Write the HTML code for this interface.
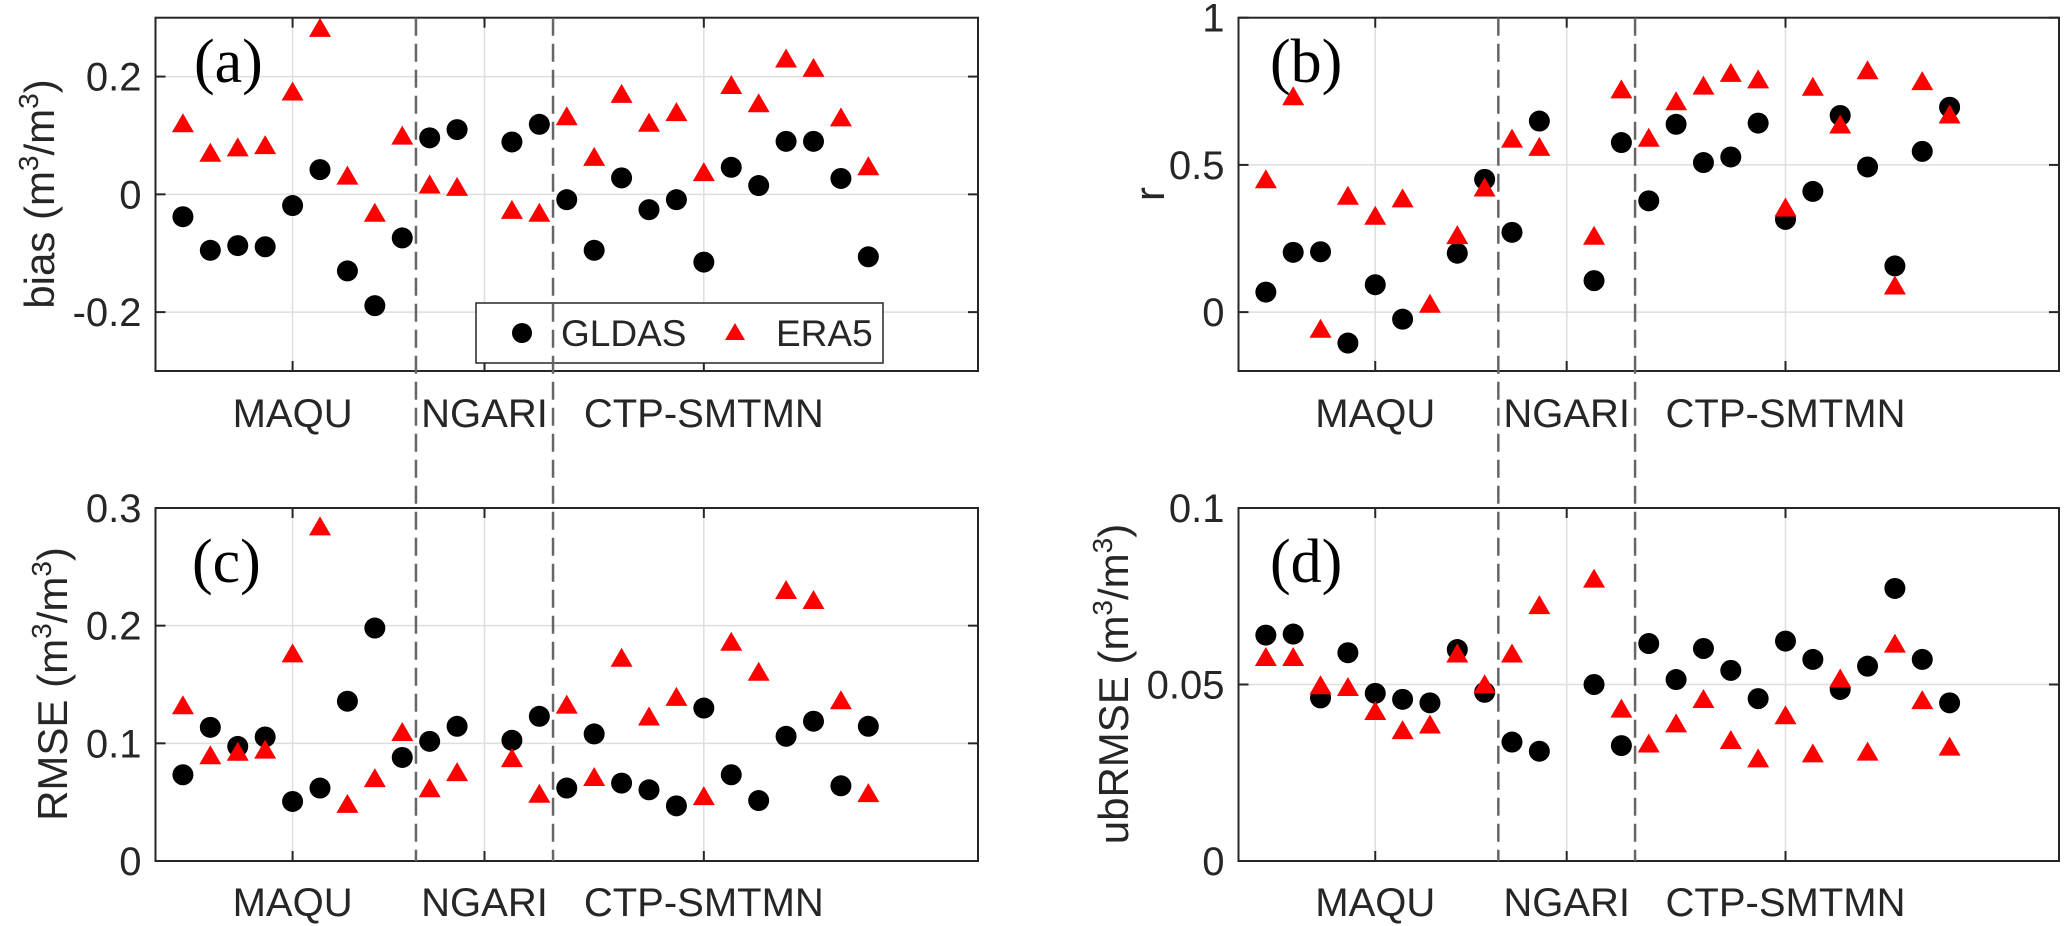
<!DOCTYPE html>
<html><head><meta charset="utf-8"><style>
html,body{margin:0;padding:0;background:#fff;}
svg{display:block;}
text{font-family:"Liberation Sans",Arial,sans-serif;fill:#262626;}
text.serif{font-family:"Liberation Serif","Times New Roman",serif;fill:#000;}
</style></head>
<body>
<svg id="chart" width="2067" height="926" viewBox="0 0 2067 926" xmlns="http://www.w3.org/2000/svg"></svg>
<script>
// ---- data (index = station 1..26; null = missing) ----
const categories = ["MAQU", "NGARI", "CTP-SMTMN"];
const categoryTicks = [5, 12, 20];
const groupDividers = [9.5, 14.5];

const biasGLDAS = [-0.038,-0.095,-0.087,-0.089,-0.019,0.042,-0.130,-0.189,-0.074,0.096,0.110,null,0.089,0.119,-0.009,-0.095,0.028,-0.026,-0.009,-0.115,0.046,0.015,0.090,0.090,0.027,-0.106];
const biasERA5  = [0.119,0.069,0.078,0.082,0.173,0.281,0.030,-0.033,0.098,0.015,0.011,null,-0.028,-0.033,0.131,0.062,0.169,0.120,0.138,0.036,0.184,0.153,0.229,0.213,0.129,0.046];

const rGLDAS = [0.068,0.203,0.205,-0.105,0.093,-0.024,null,0.200,0.451,0.271,0.649,null,0.107,0.576,0.378,0.638,0.508,0.527,0.642,0.315,0.410,0.668,0.493,0.157,0.546,0.696];
const rERA5  = [0.448,0.730,-0.060,0.392,0.324,0.383,0.025,0.258,0.420,0.586,0.558,null,0.256,0.753,0.589,0.713,0.766,0.809,0.787,0.352,0.762,0.634,0.818,0.087,0.781,0.668];

const rmseGLDAS = [0.0733,0.1136,0.0974,0.1054,0.0506,0.062,0.1358,0.198,0.088,0.1017,0.1145,null,0.1026,0.123,0.062,0.108,0.0662,0.0605,0.0469,0.130,0.0733,0.0514,0.106,0.1188,0.0639,0.1145];
const rmseERA5  = [0.1315,0.089,0.092,0.0938,0.1756,0.2835,0.0477,0.0696,0.1088,0.061,0.0747,null,0.0866,0.0563,0.132,0.0705,0.1719,0.122,0.1386,0.0543,0.1855,0.160,0.2295,0.221,0.1358,0.0568];

const ubGLDAS = [0.064,0.0643,0.0462,0.059,0.0475,0.0458,0.0448,0.0599,0.0478,0.0337,0.0311,null,0.050,0.0327,0.0616,0.0514,0.0602,0.054,0.046,0.0623,0.0571,0.0486,0.0552,0.0772,0.0571,0.0448];
const ubERA5  = [0.0575,0.0575,0.0495,0.049,0.0422,0.0368,0.0384,0.0585,0.0498,0.0585,0.0722,null,0.0797,0.0429,0.033,0.0387,0.0456,0.034,0.0288,0.041,0.0302,0.0514,0.0307,0.0613,0.0453,0.0321];

const biasTicks = [-0.2, 0, 0.2];
const biasTickLabels = ["-0.2", "0", "0.2"];
const rTicks = [0, 0.5, 1];
const rTickLabels = ["0", "0.5", "1"];
const rmseTicks = [0, 0.1, 0.2, 0.3];
const rmseTickLabels = ["0", "0.1", "0.2", "0.3"];
const ubTicks = [0, 0.05, 0.1];
const ubTickLabels = ["0", "0.05", "0.1"];

const NS = "http://www.w3.org/2000/svg";
const svg = document.getElementById("chart");
function mk(tag, attrs, parent) {
  const e = document.createElementNS(NS, tag);
  for (const k in attrs) e.setAttribute(k, attrs[k]);
  (parent || svg).appendChild(e);
  return e;
}

const panels = [
  {id:"a", L:155.5, R:978, T:17.7, B:371, ymin:-0.3, ymax:0.3, ticks:biasTicks, tl:biasTickLabels, g:biasGLDAS, e:biasERA5, ylab:"bias", lx:40, ly:194, px:194, py:82, catY:427},
  {id:"b", L:1238.5, R:2059, T:17.7, B:371, ymin:-0.2, ymax:1, ticks:rTicks, tl:rTickLabels, g:rGLDAS, e:rERA5, ylab:"r", lx:1150, ly:194, px:1270, py:82, catY:427},
  {id:"c", L:155.5, R:978, T:508, B:861, ymin:0, ymax:0.3, ticks:rmseTicks, tl:rmseTickLabels, g:rmseGLDAS, e:rmseERA5, ylab:"RMSE", lx:53, ly:684, px:192, py:582, catY:916},
  {id:"d", L:1238.5, R:2059, T:508, B:861, ymin:0, ymax:0.1, ticks:ubTicks, tl:ubTickLabels, g:ubGLDAS, e:ubERA5, ylab:"ubRMSE", lx:1114, ly:684, px:1270, py:582, catY:916}
];
const XMIN = 0, XMAX = 30;

panels.forEach(p => {
  const xs = v => p.L + (v - XMIN) / (XMAX - XMIN) * (p.R - p.L);
  const ys = v => p.B - (v - p.ymin) / (p.ymax - p.ymin) * (p.B - p.T);
  const g = mk("g", {});
  
  
  mk("rect", {x:p.L, y:p.T, width:p.R-p.L, height:p.B-p.T, fill:"#fff"}, g);
  p.ticks.forEach(t => {
    const l = mk("line", {x1:p.L, x2:p.R, y1:ys(t), y2:ys(t), stroke:"#dedede", "stroke-width":1.5}, g);
    
    
  });
  categoryTicks.forEach(t => {
    const l = mk("line", {x1:xs(t), x2:xs(t), y1:p.T, y2:p.B, stroke:"#dedede", "stroke-width":1.5}, g);
    
    
  });
  p.ticks.forEach((t, i) => {
    mk("line", {x1:p.L, x2:p.L+10, y1:ys(t), y2:ys(t), stroke:"#262626", "stroke-width":2}, g);
    mk("line", {x1:p.R, x2:p.R-10, y1:ys(t), y2:ys(t), stroke:"#262626", "stroke-width":2}, g);
    const tx = mk("text", {x:p.L-14, y:ys(t)+14, "font-size":40, "text-anchor":"end"}, g);
    tx.textContent = p.tl[i];
    
    
  });
  categoryTicks.forEach((t, i) => {
    mk("line", {x1:xs(t), x2:xs(t), y1:p.B, y2:p.B-10, stroke:"#262626", "stroke-width":2}, g);
    mk("line", {x1:xs(t), x2:xs(t), y1:p.T, y2:p.T+10, stroke:"#262626", "stroke-width":2}, g);
    const tx = mk("text", {x:xs(t), y:p.catY, "font-size":40, "text-anchor":"middle"}, g);
    tx.textContent = categories[i];
    
    
  });
  p.g.forEach((v, i) => {
    if (v === null) return;
    const c = mk("circle", {cx:xs(i+1), cy:ys(v), r:10.5, fill:"#000"}, g);
    
    
  });
  p.e.forEach((v, i) => {
    if (v === null) return;
    const x = xs(i+1), y = ys(v);
    const t = mk("polygon", {points:`${x},${y-11} ${x-11},${y+8} ${x+11},${y+8}`, fill:"#ff0000"}, g);
    
    
  });
  mk("rect", {x:p.L, y:p.T, width:p.R-p.L, height:p.B-p.T, fill:"none", stroke:"#262626", "stroke-width":2}, g);
  const pl = mk("text", {x:p.px, y:p.py, "font-size":62, "class":"serif"}, g);
  pl.textContent = "(" + p.id + ")";
  
  
  const yl = mk("text", {x:0, y:0, "font-size":42, "text-anchor":"middle", transform:`translate(${p.lx+14},${p.ly}) rotate(-90)`}, g);
  
  
  if (p.ylab === "r") {
    yl.textContent = "r";
  } else {
    yl.innerHTML = p.ylab + ' (m<tspan dy="-16" font-size="28">3</tspan><tspan dy="16">/m</tspan><tspan dy="-16" font-size="28">3</tspan><tspan dy="16">)</tspan>';
  }
});

const lg = mk("g", {});


mk("rect", {x:476, y:303, width:407, height:60, fill:"#fff", stroke:"#262626", "stroke-width":1.5}, lg);
mk("circle", {cx:522, cy:333, r:10, fill:"#000"}, lg);
const lt1 = mk("text", {x:561, y:346, "font-size":37, fill:"#000"}, lg);
lt1.textContent = "GLDAS";


mk("polygon", {points:"735,323 725,340 745,340", fill:"#ff0000"}, lg);
const lt2 = mk("text", {x:776, y:346, "font-size":37, fill:"#000"}, lg);
lt2.textContent = "ERA5";



[[155.5, 978], [1238.5, 2059]].forEach(([L, R]) => {
  groupDividers.forEach(d => {
    const x = L + (d - XMIN) / (XMAX - XMIN) * (R - L);
    const l = mk("line", {x1:x, x2:x, y1:17.7, y2:861, stroke:"#666", "stroke-width":2.5, "stroke-dasharray":"18 8"});
    
    
  });
});
</script>
</body></html>
